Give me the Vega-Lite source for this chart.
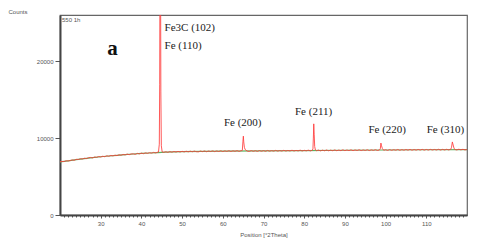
{
  "$schema": "https://vega.github.io/schema/vega-lite/v6.json",
  "width": 407,
  "height": 200,
  "autosize": {"type": "none"},
  "padding": {"left": 60, "top": 15, "right": 13, "bottom": 32},
  "background": "white",
  "config": {
    "view": {"stroke": "#666", "strokeWidth": 1.2},
    "axis": {"grid": false, "labelFont": "Liberation Sans", "titleFont": "Liberation Sans", "labelFontSize": 6, "titleFontSize": 6, "labelColor": "#555", "titleColor": "#555", "titleFontWeight": "normal", "domainColor": "#444", "domainWidth": 2, "tickColor": "#555"}
  },
  "resolve": {"axis": {"x": "independent"}},
  "datasets": {
    "obs": [
      {"x":20,"y":6920},{"x":20.5,"y":6970},{"x":21,"y":6950},{"x":21.5,"y":7050},{"x":22,"y":7020},{"x":22.5,"y":7080},{"x":23,"y":7160},{"x":23.5,"y":7110},{"x":24,"y":7240},{"x":24.5,"y":7210},{"x":25,"y":7310},{"x":25.5,"y":7280},{"x":26,"y":7380},{"x":26.5,"y":7330},{"x":27,"y":7440},{"x":27.5,"y":7480},{"x":28,"y":7420},{"x":28.5,"y":7540},{"x":29,"y":7490},{"x":29.5,"y":7600},
      {"x":30,"y":7540},{"x":30.5,"y":7640},{"x":31,"y":7580},{"x":31.5,"y":7700},{"x":32,"y":7630},{"x":32.5,"y":7740},{"x":33,"y":7680},{"x":33.5,"y":7780},{"x":34,"y":7720},{"x":34.5,"y":7830},{"x":35,"y":7770},{"x":35.5,"y":7870},{"x":36,"y":7810},{"x":36.5,"y":7920},{"x":37,"y":7840},{"x":37.5,"y":7940},{"x":38,"y":7950},{"x":38.5,"y":7880},{"x":39,"y":8010},{"x":39.5,"y":7940},
      {"x":40,"y":8040},{"x":40.5,"y":7970},{"x":41,"y":8080},{"x":41.5,"y":8010},{"x":42,"y":8100},{"x":42.5,"y":8040},{"x":43,"y":8140},{"x":43.5,"y":8070},{"x":44,"y":8170},
      {"x":44.2,"y":8180},{"x":44.4,"y":9200},{"x":44.5,"y":17000},{"x":44.58,"y":40000},{"x":44.68,"y":40000},{"x":44.78,"y":16000},{"x":44.9,"y":9000},{"x":45.1,"y":8200},
      {"x":45.5,"y":8150},{"x":46,"y":8230},{"x":46.5,"y":8140},{"x":47,"y":8250},{"x":47.5,"y":8160},{"x":48,"y":8260},{"x":48.5,"y":8180},{"x":49,"y":8270},{"x":49.5,"y":8190},
      {"x":50,"y":8280},{"x":50.5,"y":8200},{"x":51,"y":8290},{"x":51.5,"y":8210},{"x":52,"y":8300},{"x":52.5,"y":8220},{"x":53,"y":8310},{"x":53.5,"y":8230},{"x":54,"y":8210},{"x":54.5,"y":8320},{"x":55,"y":8240},{"x":55.5,"y":8330},{"x":56,"y":8230},{"x":56.5,"y":8320},{"x":57,"y":8250},{"x":57.5,"y":8340},{"x":58,"y":8240},{"x":58.5,"y":8330},{"x":59,"y":8260},{"x":59.5,"y":8350},
      {"x":60,"y":8250},{"x":60.5,"y":8340},{"x":61,"y":8270},{"x":61.5,"y":8360},{"x":62,"y":8260},{"x":62.5,"y":8350},{"x":63,"y":8280},{"x":63.5,"y":8370},{"x":64,"y":8270},{"x":64.5,"y":8360},
      {"x":64.8,"y":8400},{"x":64.95,"y":9600},{"x":65.05,"y":10250},{"x":65.15,"y":9500},{"x":65.3,"y":8800},{"x":65.5,"y":8500},
      {"x":66,"y":8310},{"x":66.5,"y":8270},{"x":67,"y":8370},{"x":67.5,"y":8280},{"x":68,"y":8360},{"x":68.5,"y":8270},{"x":69,"y":8380},{"x":69.5,"y":8290},
      {"x":70,"y":8370},{"x":70.5,"y":8280},{"x":71,"y":8390},{"x":71.5,"y":8290},{"x":72,"y":8370},{"x":72.5,"y":8300},{"x":73,"y":8400},{"x":73.5,"y":8300},{"x":74,"y":8380},{"x":74.5,"y":8310},{"x":75,"y":8410},{"x":75.5,"y":8310},{"x":76,"y":8390},{"x":76.5,"y":8320},{"x":77,"y":8420},{"x":77.5,"y":8320},{"x":78,"y":8400},{"x":78.5,"y":8330},{"x":79,"y":8430},{"x":79.5,"y":8320},
      {"x":80,"y":8410},{"x":80.5,"y":8340},{"x":81,"y":8430},{"x":81.5,"y":8330},{"x":82,"y":8420},
      {"x":82.15,"y":8600},{"x":82.25,"y":10000},{"x":82.35,"y":11850},{"x":82.45,"y":10500},{"x":82.58,"y":8900},{"x":82.75,"y":8450},
      {"x":83,"y":8360},{"x":83.5,"y":8440},{"x":84,"y":8340},{"x":84.5,"y":8430},{"x":85,"y":8350},{"x":85.5,"y":8450},{"x":86,"y":8350},{"x":86.5,"y":8430},{"x":87,"y":8360},{"x":87.5,"y":8460},{"x":88,"y":8360},{"x":88.5,"y":8440},{"x":89,"y":8370},{"x":89.5,"y":8470},
      {"x":90,"y":8370},{"x":90.5,"y":8450},{"x":91,"y":8380},{"x":91.5,"y":8470},{"x":92,"y":8370},{"x":92.5,"y":8460},{"x":93,"y":8390},{"x":93.5,"y":8480},{"x":94,"y":8380},{"x":94.5,"y":8460},{"x":95,"y":8390},{"x":95.5,"y":8480},{"x":96,"y":8380},{"x":96.5,"y":8470},{"x":97,"y":8400},{"x":97.5,"y":8490},{"x":98,"y":8390},{"x":98.5,"y":8460},
      {"x":98.7,"y":8600},{"x":98.85,"y":9350},{"x":99,"y":9000},{"x":99.2,"y":8650},{"x":99.4,"y":8480},{"x":99.6,"y":8420},
      {"x":100,"y":8490},{"x":100.5,"y":8400},{"x":101,"y":8500},{"x":101.5,"y":8410},{"x":102,"y":8490},{"x":102.5,"y":8420},{"x":103,"y":8510},{"x":103.5,"y":8410},{"x":104,"y":8500},{"x":104.5,"y":8420},{"x":105,"y":8510},{"x":105.5,"y":8430},{"x":106,"y":8520},{"x":106.5,"y":8420},{"x":107,"y":8510},{"x":107.5,"y":8430},{"x":108,"y":8520},{"x":108.5,"y":8440},{"x":109,"y":8530},{"x":109.5,"y":8430},
      {"x":110,"y":8520},{"x":110.5,"y":8440},{"x":111,"y":8530},{"x":111.5,"y":8450},{"x":112,"y":8520},{"x":112.5,"y":8450},{"x":113,"y":8540},{"x":113.5,"y":8440},{"x":114,"y":8530},{"x":114.5,"y":8450},{"x":115,"y":8540},{"x":115.5,"y":8460},{"x":116,"y":8540},
      {"x":116.2,"y":8800},{"x":116.4,"y":9500},{"x":116.6,"y":9100},{"x":116.8,"y":8700},{"x":117,"y":8520},
      {"x":117.5,"y":8460},{"x":118,"y":8550},{"x":118.5,"y":8470},{"x":119,"y":8540},{"x":119.5,"y":8460},{"x":120,"y":8510}
    ],
    "bg": [
      {"x":20,"y":6900},{"x":22,"y":7040},{"x":24,"y":7200},{"x":26,"y":7340},{"x":28,"y":7460},{"x":30,"y":7570},{"x":32,"y":7670},{"x":34,"y":7760},{"x":36,"y":7850},{"x":38,"y":7930},{"x":40,"y":8000},{"x":42,"y":8060},{"x":44,"y":8120},{"x":46,"y":8170},{"x":48,"y":8210},{"x":50,"y":8240},{"x":55,"y":8280},{"x":60,"y":8300},{"x":70,"y":8330},{"x":80,"y":8380},{"x":90,"y":8420},{"x":100,"y":8450},{"x":110,"y":8480},{"x":120,"y":8500}
    ],
    "peaks": [
      {"x":45.7,"y":24300,"label":"Fe3C (102)","align":"left"},
      {"x":45.7,"y":22000,"label":"Fe (110)","align":"left"},
      {"x":64.9,"y":11950,"label":"Fe (200)","align":"center"},
      {"x":82.3,"y":13350,"label":"Fe (211)","align":"center"},
      {"x":100.4,"y":11050,"label":"Fe (220)","align":"center"},
      {"x":114.7,"y":11050,"label":"Fe (310)","align":"center"}
    ],
    "panel": [{"x":32.9,"y":21600,"label":"a"}],
    "sample": [{"x":20.5,"y":25300,"label":"550 1h"}]
  },
  "layer": [
    {
      "data": {"name": "bg"},
      "mark": {"type": "line", "color": "#5fb35f", "strokeWidth": 1.2, "clip": true},
      "encoding": {
        "x": {"field": "x", "type": "quantitative", "scale": {"domain": [20, 120], "nice": false, "zero": false},
          "axis": {"orient": "bottom", "title": null, "labels": false, "domain": false, "tickSize": 2, "values": [21,22,23,24,25,26,27,28,29,31,32,33,34,35,36,37,38,39,41,42,43,44,45,46,47,48,49,51,52,53,54,55,56,57,58,59,61,62,63,64,65,66,67,68,69,71,72,73,74,75,76,77,78,79,81,82,83,84,85,86,87,88,89,91,92,93,94,95,96,97,98,99,101,102,103,104,105,106,107,108,109,111,112,113,114,115,116,117,118,119]}},
        "y": {"field": "y", "type": "quantitative", "scale": {"domain": [0, 26000], "nice": false},
          "axis": {"title": "Counts", "titleAngle": 0, "titleAlign": "left", "titleBaseline": "middle", "titleX": -52, "titleY": -4, "values": [0, 10000, 20000], "format": "d", "tickSize": 5, "labelPadding": 2}}
      }
    },
    {
      "data": {"name": "obs"},
      "mark": {"type": "line", "color": "#ff3b3b", "strokeWidth": 1, "opacity": 0.85, "clip": true},
      "encoding": {
        "x": {"field": "x", "type": "quantitative", "scale": {"domain": [20, 120], "nice": false, "zero": false},
          "axis": {"orient": "bottom", "title": "Position [°2Theta]", "titlePadding": 5, "values": [30,40,50,60,70,80,90,100,110], "tickSize": 3, "labelPadding": 2}},
        "y": {"field": "y", "type": "quantitative"}
      }
    },
    {
      "data": {"name": "peaks"},
      "transform": [{"filter": "datum.align === 'left'"}],
      "mark": {"type": "text", "font": "Liberation Serif", "fontSize": 11, "align": "left", "baseline": "middle", "color": "#222"},
      "encoding": {
        "x": {"field": "x", "type": "quantitative", "scale": {"domain": [20, 120], "nice": false, "zero": false}, "axis": null},
        "y": {"field": "y", "type": "quantitative"},
        "text": {"field": "label"}
      }
    },
    {
      "data": {"name": "peaks"},
      "transform": [{"filter": "datum.align === 'center'"}],
      "mark": {"type": "text", "font": "Liberation Serif", "fontSize": 11, "align": "center", "baseline": "middle", "color": "#222"},
      "encoding": {
        "x": {"field": "x", "type": "quantitative", "scale": {"domain": [20, 120], "nice": false, "zero": false}, "axis": null},
        "y": {"field": "y", "type": "quantitative"},
        "text": {"field": "label"}
      }
    },
    {
      "data": {"name": "panel"},
      "mark": {"type": "text", "font": "Liberation Serif", "fontSize": 21, "fontWeight": "bold", "align": "center", "baseline": "middle", "color": "#111"},
      "encoding": {
        "x": {"field": "x", "type": "quantitative", "scale": {"domain": [20, 120], "nice": false, "zero": false}, "axis": null},
        "y": {"field": "y", "type": "quantitative"},
        "text": {"field": "label"}
      }
    },
    {
      "data": {"name": "sample"},
      "mark": {"type": "text", "font": "Liberation Sans", "fontSize": 6, "align": "left", "baseline": "middle", "color": "#555"},
      "encoding": {
        "x": {"field": "x", "type": "quantitative", "scale": {"domain": [20, 120], "nice": false, "zero": false}, "axis": null},
        "y": {"field": "y", "type": "quantitative"},
        "text": {"field": "label"}
      }
    }
  ]
}
